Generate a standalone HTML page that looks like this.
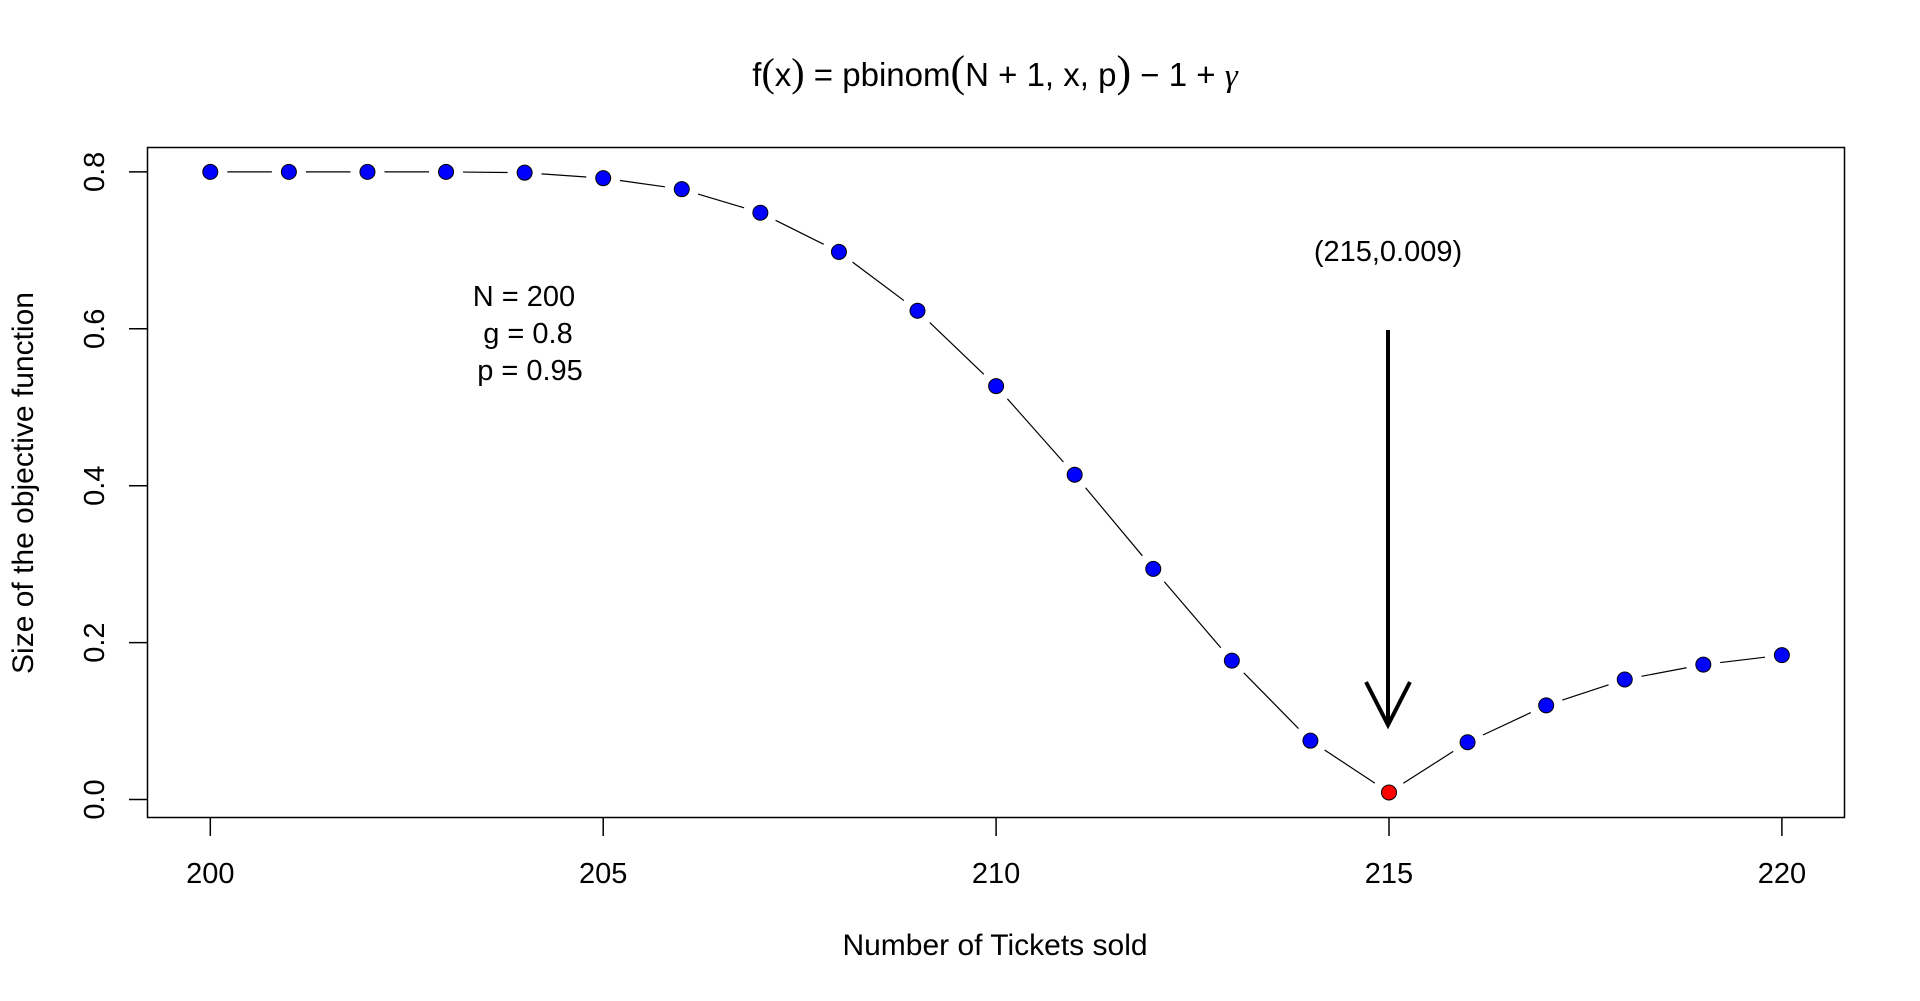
<!DOCTYPE html>
<html><head><meta charset="utf-8">
<style>
html,body{margin:0;padding:0;background:#fff;}
svg{display:block;font-family:"Liberation Sans",Arial,sans-serif;}
</style></head>
<body>
<svg id="chart" width="1920" height="1001" viewBox="0 0 1920 1001" xmlns="http://www.w3.org/2000/svg">
<rect x="0" y="0" width="1920" height="1001" fill="#fff"/>
<text x="995" y="86" text-anchor="middle" font-size="33">f<tspan font-family="Liberation Serif" font-size="40">(</tspan>x<tspan font-family="Liberation Serif" font-size="40">)</tspan> = pbinom<tspan font-family="Liberation Serif" font-size="44">(</tspan>N + 1, x, p<tspan font-family="Liberation Serif" font-size="44">)</tspan> − 1 + <tspan font-family="Liberation Serif" font-style="italic">γ</tspan></text>
<rect x="147.5" y="147.5" width="1697" height="670" fill="none" stroke="#000" stroke-width="1.5"/>
<g id="xaxis"></g>
<g id="yaxis"></g>
<text x="995" y="955" text-anchor="middle" font-size="30">Number of Tickets sold</text>
<text transform="translate(33,483) rotate(-90)" text-anchor="middle" font-size="30">Size of the objective function</text>
<g id="lines"></g>
<g id="points"></g>
<g font-size="29" text-anchor="middle">
<text x="524" y="306">N = 200</text>
<text x="528" y="343">g = 0.8</text>
<text x="530" y="380">p = 0.95</text>
</g>
<text x="1388" y="261" text-anchor="middle" font-size="29">(215,0.009)</text>
<g stroke="#000" stroke-width="4" fill="none">
<line x1="1388" y1="330" x2="1388" y2="725"/>
<polyline points="1366,682 1388,725 1410,682"/>
</g>
</svg>
<script>
const categories = [200,201,202,203,204,205,206,207,208,209,210,211,212,213,214,215,216,217,218,219,220];
const values = [0.800,0.800,0.800,0.800,0.799,0.792,0.778,0.748,0.698,0.623,0.527,0.414,0.294,0.177,0.075,0.009,0.073,0.120,0.153,0.172,0.184];
const xTicks = [200,205,210,215,220];
const yTicks = [0.0,0.2,0.4,0.6,0.8];
const yTickLabels = ["0.0","0.2","0.4","0.6","0.8"];
const highlightX = 215;

const NS = "http://www.w3.org/2000/svg";
function xs(v){ return 210.3 + (v-200)*78.58; }
function ys(v){ return 799.5 - v*784.5; }
function mk(tag, attrs, parent){ const e=document.createElementNS(NS,tag); for(const k in attrs) e.setAttribute(k,attrs[k]); parent.appendChild(e); return e; }

const xa=document.getElementById('xaxis');
xTicks.forEach(t=>{
  const l=mk('line',{x1:xs(t),x2:xs(t),y1:818,y2:836,stroke:'#000','stroke-width':1.5},xa);
  
  
  const tx=mk('text',{x:xs(t),y:883,'text-anchor':'middle','font-size':29},xa);
  tx.textContent=t;
  
  
});
const ya=document.getElementById('yaxis');
yTicks.forEach((t,i)=>{
  const l=mk('line',{x1:129,x2:147,y1:ys(t),y2:ys(t),stroke:'#000','stroke-width':1.5},ya);
  
  
  const tx=mk('text',{transform:'translate(104,'+ys(t)+') rotate(-90)','text-anchor':'middle','font-size':29},ya);
  tx.textContent=yTickLabels[i];
  
  
});
const lg=document.getElementById('lines');
for(let i=0;i<categories.length-1;i++){
  const x1=xs(categories[i]),y1=ys(values[i]),x2=xs(categories[i+1]),y2=ys(values[i+1]);
  const dx=x2-x1,dy=y2-y1,len=Math.hypot(dx,dy),g=17;
  if(len<=2*g) continue;
  const ux=dx/len,uy=dy/len;
  const s=mk('line',{x1:x1+ux*g,y1:y1+uy*g,x2:x2-ux*g,y2:y2-uy*g,stroke:'#000','stroke-width':1.2},lg);
  
  
}
const pg=document.getElementById('points');
categories.forEach((c,i)=>{
  const p=mk('circle',{cx:xs(c),cy:ys(values[i]),r:7.5,fill:c===highlightX?'#ff0000':'#0000ff',stroke:'#000','stroke-width':1},pg);
  
  
});
</script>
</body></html>
